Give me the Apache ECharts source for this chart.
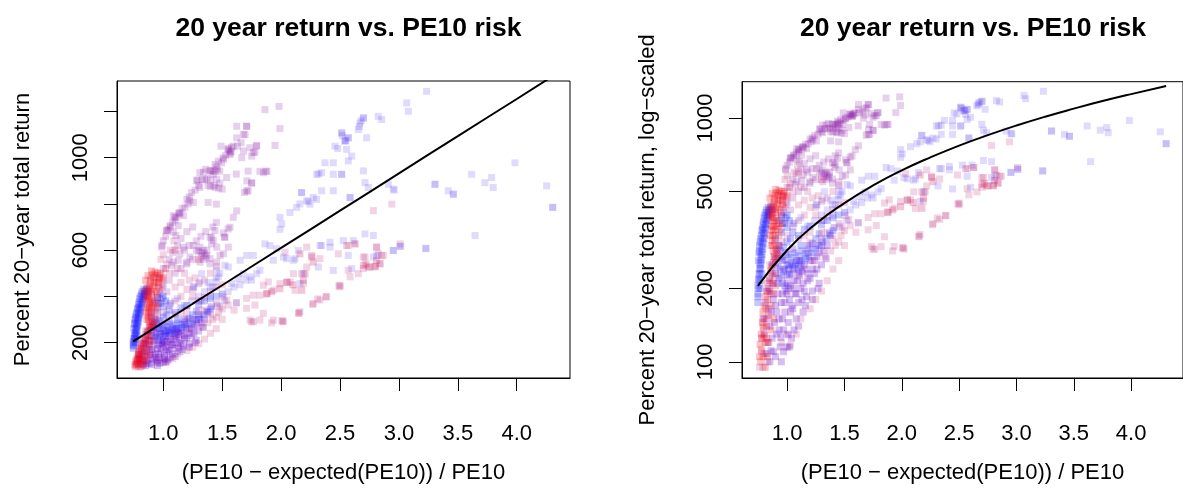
<!DOCTYPE html>
<html><head><meta charset="utf-8">
<script src="https://cdn.jsdelivr.net/npm/echarts@6/dist/echarts.min.js"></script>
<style>html,body{margin:0;padding:0;background:#fff}#c{width:1183px;height:489px}</style>
</head><body><div id="c"></div>
<script>
// ---- tick labels ----
const xTicks = [1.0, 1.5, 2.0, 2.5, 3.0, 3.5, 4.0];
const yTicksLin = [200, 400, 600, 800, 1000, 1200];
const yLabelsLin = [200, 600, 1000];
const yTicksLog = [100, 200, 500, 1000];

// ---- data: [PE10 risk, 20-year total return %] grouped by colour ----
const pinkPts = [[2.783,771],[2.94,799],[3.009,627],[2.811,613],[2.853,577],[2.712,570],[2.754,527],[2.839,541],[2.698,520],[2.655,498],[2.585,484],[2.5,448],[2.57,513],[2.556,620],[2.627,627],[2.486,584],[2.33,563],[2.217,527],[2.174,498],[2.188,455],[2.104,498],[2.047,462],[1.99,455],[1.934,427],[1.877,412],[1.82,405],[1.764,405],[1.707,391],[1.622,372],[1.538,384],[1.509,398],[1.453,369],[1.48,355],[2.16,333],[2.33,384],[2.386,398],[2.273,369],[2.019,290],[1.934,297],[1.82,297],[1.736,297],[1.764,290],[1.707,348],[1.778,362],[1.849,326],[1.891,462],[1.849,448],[2.217,613],[2.26,577],[2.57,620],[2.627,627],[2.5,441],[2.268,365],[2.152,326],[2.013,293],[2.118,426],[2.698,570],[2.797,527],[2.825,584],[2.868,577],[2.84,541],[2.81,613],[2.033,591],[2.076,462],[2.49,445],[2.31,389],[2.38,398],[2.147,328],[1.75,290],[2.006,294],[1.92,285],
[1.03,540],[1.06,600],[1.09,640],[1.12,520],[1.18,500],[1.22,470],[1.27,480],[1.3,455],[1.15,460],[1.05,500],[0.98,560],[1.0,580],[1.1,440],[1.25,430],[1.35,470],[1.4,500],[1.45,530],
[1.03,117],[1.08,130],[0.79,95],[0.8,108],[1.12,150],[1.2,165],[1.25,180],[1.3,195],[1.35,215],[1.4,240],[1.45,260],[1.38,285],[1.33,270],[1.42,300],[1.47,330],[1.5,345],[1.55,362],[1.6,340],[1.15,330],[1.2,310],[1.25,300],[1.3,320],[1.35,340],[1.18,280],[1.22,260],[0.78,125],[0.83,100],[0.95,120],[1.0,130],
[0.78,110],[0.79,140],[0.76,95],[0.85,250],[0.95,310],[1.0,330],[1.05,360],[1.1,380],[1.15,400],[1.2,430],[1.25,400],[1.3,380],[1.35,395],[1.4,420],[1.45,440],[1.5,450],[1.1,320],[1.2,340],[1.3,340],[1.4,320],[1.5,300],[1.45,310]];

const lavPts = [[1.99,742],[2.005,713],[2.075,763],[2.132,785],[2.174,849],[2.217,814],[2.245,799],[2.273,828],[2.302,928],[2.344,935],[2.344,857],[2.443,857],[2.443,928],[2.372,978],[2.443,978],[2.514,928],[2.457,1050],[2.514,1107],[2.542,1072],[2.57,1086],[2.556,1036],[2.599,1007],[2.57,986],[2.655,1122],[2.67,1151],[2.698,1172],[2.726,1086],[2.698,943],[2.712,892],[2.74,871],[2.825,1179],[2.853,1165],[2.91,885],[2.952,864],[2.585,828],[3.066,1237],[3.08,1201],[3.235,1287],[3.306,885],[3.419,857],[3.462,842],[3.617,928],[3.73,892],[3.787,914],[3.8,871],[3.985,978],[4.254,878],[4.305,785],[3.646,663],[3.23,606],[2.952,599],[3.009,616],[3.015,617],[2.952,598],[3.227,608],[2.613,641],[2.443,512],[2.599,520],[2.783,570],[2.57,577],[1.99,690],[2.16,800],[2.3,820],[2.48,1040],[2.52,1095],[2.55,1075],[2.665,1135],[2.68,1160],
[2.542,1072],[2.57,1086],[2.514,1107],[2.32,930],[2.514,928],[2.585,828],[2.174,849],[2.23,810],[4.305,785],[3.306,885],[3.462,842],[2.96,860],[2.7,1172],
[1.863,627],[1.905,620],[1.934,556],[1.962,606],[2.019,570],[2.047,563],[2.104,556],[2.344,620],[2.415,613],[2.712,670],[2.783,663],[2.811,577],[2.316,527],[2.188,498],[2.16,455],[1.82,513],[1.792,498],[1.736,484],[1.679,498],[1.707,577],[1.764,577],[1.651,556],[1.58,455],[1.637,477],[1.552,527],[1.523,534],[1.453,513],[1.467,484],[1.439,462],[1.396,441],[1.325,498],[1.31,462],[1.255,441],[2.528,641],[2.33,620],[2.415,634],[2.118,563],[2.146,598],[1.62,372],
[1.12,390],[1.18,360],[1.24,380],[1.3,400],[1.35,420],[1.38,460],[1.42,440],[1.45,480],[1.48,500],[1.32,380],[1.4,400],[1.26,440],[1.55,420],[1.6,440],[1.65,450],[1.7,470],[1.75,470],[1.52,380],[1.46,360]];

const purplePts = [[1.863,1208],[1.982,1222],[1.99,1126],[1.623,1136],[1.708,1136],[1.694,1100],[1.623,1086],[1.948,1053],[1.793,1053],[1.736,1043],[1.49,1050],[1.55,1035],[1.575,1027],[1.566,1014],[1.509,993],[1.467,985],[1.666,1000],[1.75,1007],[1.778,1024],[1.439,971],[1.4,942],[1.48,942],[1.424,928],[1.34,938],[1.538,914],[1.72,942],[1.82,941],[1.88,941],[1.75,889],[1.708,856],[1.29,904],[1.33,904],[1.4,904],[1.44,872],[1.47,868],[1.5,864],[1.4,875],[1.31,871],[1.24,849],[1.255,806],[1.2,820],[1.38,806],[1.45,799],[1.184,785],[1.623,770],[1.14,763],[1.17,749],[1.085,749],[1.11,743],[1.057,706],[1.127,706],[1.03,684],[1.085,678],[1.566,699],[1.51,674],[1.41,656],[1.52,656],[1.107,663],[1.85,935],[1.87,942],[1.71,900],[1.75,892],[1.69,850],[1.72,857],[1.62,929],[1.594,742],[1.55,692],
[1.56,1030],[1.57,1020],[1.55,1040],[1.42,945],[1.44,940],[1.46,950],[1.35,905],[1.37,910],[1.3,880],[1.27,860],[1.22,830],[1.21,800],[1.16,780],[1.13,760],[1.1,730],[1.08,720],[1.06,700],[1.04,690],[1.02,660],[1.0,640],[0.99,620],[1.38,880],[1.43,880],[1.48,890],[1.51,1000],[1.53,1010],[1.58,1045],[1.63,1050],[1.66,1065],[1.45,960],[1.36,950],[0.986,613],[1.028,685],[1.099,742],[1.14,756],[1.226,814],[1.283,900],[1.31,935],[1.396,943],[1.453,907],[1.495,978],[1.594,1050],[1.68,1100],[1.707,1136],[1.79,1050],[1.68,1029],[1.764,1022],
[1.311,613],[1.34,599],[1.368,577],[1.396,563],[1.424,642],[1.41,627],[1.453,613],[1.283,599],[1.255,620],[1.226,570],[1.17,613],[1.141,584],[1.127,556],[1.085,548],[1.071,534],[1.198,548],[1.311,548],[1.396,541],[1.453,548],[1.481,577],[1.51,584],[1.552,613],[1.523,656],[1.439,685],[1.396,656],[1.33,590],[1.35,585],[1.36,570],[1.32,575],[1.34,560],[1.3,595],[1.37,600],
[1.0,450],[1.05,470],[1.1,500],[1.15,520],[1.2,540],[1.25,560],[1.18,600],[1.22,620],[1.28,640],[1.32,660],[1.36,680],[1.42,700],[1.45,720],[1.05,560],[1.08,590],[1.12,620],[1.15,650],[1.2,680],[1.25,700],[1.0,520],[0.97,480],[0.99,440],[1.03,420]];

const massPts = [[0.8,130],[0.82,150],[0.83,120],[0.85,140],[0.86,160],[0.87,125],[0.88,110],[0.89,145],[0.9,170],[0.91,130],[0.92,190],[0.93,150],[0.94,115],[0.95,175],[0.96,210],[0.97,135],[0.98,160],[0.99,195],[1.0,225],[1.01,145],[1.02,180],[1.03,205],[1.04,125],[1.05,165],[1.06,240],[1.07,190],[1.08,150],[1.09,215],[1.1,175],[1.12,200],[1.13,235],[1.14,160],[1.15,250],[1.17,185],[1.18,215],[1.2,260],[1.22,195],[1.24,230],[1.26,270],[1.28,210],[1.3,250],[1.32,285],[0.84,200],[0.87,230],[0.9,255],[0.97,110],[1.02,115],[1.06,135],[0.88,180],[0.93,220],[0.99,280],[1.05,290],[1.11,260],[1.18,300],[1.35,300],[1.38,330],[1.41,355],[1.34,265],[0.86,111],[0.945,126],[1.01,129],[0.91,160],[0.96,150],[1.0,190],[1.04,170],
[0.79,150],[0.81,175],[0.83,195],[0.85,215],[0.87,250],[0.89,270],[0.91,290],[0.84,165],[0.86,190],[0.88,210],[0.9,230],[0.92,265],[0.94,240],[0.96,260],[0.98,240],[1.0,210],[1.02,250],[1.04,230],[1.06,200],[1.08,260],[1.1,230],[1.12,245],[1.14,210],[1.16,240],[1.18,230],[1.2,220],[1.22,240],[1.24,260],[1.26,240],[1.28,280],[1.3,300],[1.15,195],[1.1,140],[1.16,170],[1.22,180],[1.27,200],[0.95,100],[0.9,105],[0.85,100],[0.82,108],[1.0,115],[0.93,135],[0.98,175],[1.03,160],[1.08,190],[1.13,180],[0.96,190],[1.01,200],[1.06,215],[1.11,225]];

const bluePts = [[0.745,175],[0.745,190],[0.745,205],[0.75,218],[0.755,230],[0.76,242],[0.765,255],[0.77,268],[0.775,282],[0.78,296],[0.785,310],[0.79,325],[0.795,340],[0.8,355],[0.81,370],[0.82,385],[0.83,400],[0.84,412],[0.85,425],[0.86,432],[0.87,420],[0.76,300],[0.77,320],[0.78,345],[0.79,365],[0.8,390],[0.815,410],[0.75,260],[0.755,280],[0.765,200],[0.77,215],[0.78,230],[0.93,380],[0.95,395],[0.97,410],[0.99,390],[0.96,370],[1.0,400],
[0.95,270],[0.98,262],[1.01,275],[1.04,268],[1.07,280],[1.1,272],[1.13,285],[1.16,278],[1.19,290],[1.0,250],[1.05,245],[1.1,255],[0.92,245],[0.97,235],[1.02,228],[0.93,300],[1.12,300],[1.22,305],[1.25,320],[1.28,335],
[0.748,185],[0.752,200],[0.757,215],[0.762,228],[0.768,240],[0.772,250],[0.778,262],[0.783,275],[0.788,290],[0.793,305],[0.8,320],[0.806,335],[0.812,350],[0.818,365],[0.825,380],[0.835,395],[0.845,405],[0.76,285],[0.765,310],[0.775,330],[0.785,350],[0.795,375],[0.805,400],[0.82,420],[0.835,430],
[0.92,210],[0.95,225],[0.98,205],[1.01,240],[1.04,255],[1.07,250],[1.1,240],[1.13,260],[1.16,265],[1.19,270],[1.22,280],[1.25,290],[1.28,300],[1.31,310],[1.34,320],[1.37,335],[1.4,345],[0.94,285],[0.97,295],[1.0,310],[1.03,320],[0.9,320],[0.95,340],[1.0,355],[1.05,340],[1.1,330],[0.98,370],[1.02,380],[1.06,370],[1.15,350],[1.2,360],[1.3,365],[1.35,380],[1.4,390],[1.45,400],[1.5,410]];

const redPts = [[0.88,255],[0.885,270],[0.88,285],[0.875,300],[0.87,315],[0.875,330],[0.88,345],[0.885,360],[0.88,375],[0.875,390],[0.87,405],[0.875,420],[0.88,435],[0.885,450],[0.89,465],[0.895,480],[0.91,495],[0.93,505],[0.95,500],[0.97,490],[0.96,475],[0.94,460],[0.92,445],[0.91,430],[0.9,410],[0.905,390],[0.91,370],[0.9,350],[0.895,330],[0.89,310],[0.9,290],[0.91,275],[0.93,300],[0.94,350],[0.95,400],[0.96,440],[0.99,470],[0.86,440],[0.85,470],[0.87,490],[0.9,510],[0.92,480],
[0.86,300],[0.87,350],[0.89,380],[0.9,420],[0.92,460],[0.93,490],[0.94,420],[0.96,460],[0.97,430],[0.98,500],[1.0,480],[0.92,360],[0.93,330],[0.95,370],[0.85,330],[0.86,360],[0.865,400],[0.85,390],[0.84,420],[0.9,265],[0.92,280],
[0.77,100],[0.775,112],[0.78,125],[0.79,105],[0.795,138],[0.8,150],[0.81,120],[0.815,165],[0.82,140],[0.83,180],[0.84,155],[0.85,195],[0.86,170],[0.87,210],[0.88,190],[0.89,225],[0.9,205],[0.84,120],[0.86,135],[0.81,95],[0.83,105],[0.88,150],
[0.775,130],[0.785,145],[0.79,160],[0.8,170],[0.81,185],[0.82,195],[0.83,210],[0.845,220],[0.855,235],[0.865,245],[0.76,105],[0.765,118],[0.8,128],[0.82,125]];

const magentaPts = [[2.273,548],[2.7,534],[2.74,527],[2.81,555],[2.175,426],[2.189,469],[1.99,433],[2.203,498],[2.16,584],[2.26,570],[2.72,540],[2.8,530],[1.88,410],[1.92,420],[2.05,460],[2.1,450],[1.3,560],[1.1,600],[1.02,520]];

// ---- fitted line ----
const fitX = [0.745, 1.0, 1.25, 1.5, 1.75, 2.0, 2.25, 2.5, 2.75, 3.0, 3.25, 3.5, 3.75, 4.0, 4.305];
const fitY = [205, 287, 368, 448, 529, 610, 690, 771, 851, 932, 1013, 1093, 1174, 1254, 1353];

const FONT = 'Liberation Sans, Arial, Helvetica, sans-serif';
const groups = [
  {data: pinkPts, color: 'rgba(190,40,120,0.25)'},
  {data: lavPts, color: 'rgba(80,50,240,0.22)'},
  {data: purplePts, color: 'rgba(140,30,170,0.26)'},
  {data: magentaPts, color: 'rgba(200,20,90,0.3)'},
  {data: massPts, color: 'rgba(100,0,200,0.32)'},
  {data: bluePts, color: 'rgba(20,20,255,0.3)'},
  {data: redPts, color: 'rgba(240,0,20,0.3)'}
];
const fitData = fitX.map((x, i) => [x, fitY[i]]);

function xAxis(gi) {
  return {
    type: 'value', gridIndex: gi, min: 0.607, max: 4.452,
    axisLine: {show: true, onZero: false, lineStyle: {color: '#000', width: 1}},
    axisTick: {show: true, inside: false, length: 13, customValues: xTicks, lineStyle: {color: '#000'}},
    axisLabel: {customValues: xTicks, formatter: v => v.toFixed(1), margin: 45, fontSize: 22, color: '#000', fontFamily: FONT},
    splitLine: {show: false},
    name: '(PE10 \u2212 expected(PE10)) / PE10', nameLocation: 'middle', nameGap: 84,
    nameTextStyle: {fontSize: 22, color: '#000', fontFamily: FONT}
  };
}
const series = [];
[0, 1].forEach(gi => {
  groups.forEach(g => series.push({
    type: 'scatter', xAxisIndex: gi, yAxisIndex: gi, data: g.data,
    symbol: 'rect', symbolSize: 7, itemStyle: {color: g.color}, silent: true
  }));
  series.push({type: 'line', xAxisIndex: gi, yAxisIndex: gi, data: fitData, symbol: 'none',
    smooth: gi === 1, clip: true, lineStyle: {color: '#000', width: 2}, silent: true});
});

const option = {
  backgroundColor: '#fff', animation: false,
  title: [
    {text: '20 year return vs. PE10 risk', left: 343.5, top: 10, textAlign: 'center',
     textStyle: {fontSize: 26.5, fontWeight: 'bold', color: '#000', fontFamily: FONT}},
    {text: '20 year return vs. PE10 risk', left: 968, top: 10, textAlign: 'center',
     textStyle: {fontSize: 26.5, fontWeight: 'bold', color: '#000', fontFamily: FONT}}
  ],
  grid: [
    {left: 117, top: 81, width: 453, height: 299, show: true, borderColor: '#000', borderWidth: 1, backgroundColor: 'transparent'},
    {left: 742, top: 81.7, width: 453, height: 298.3, show: true, borderColor: '#000', borderWidth: 1, backgroundColor: 'transparent'}
  ],
  xAxis: [xAxis(0), xAxis(1)],
  yAxis: [
    {type: 'value', gridIndex: 0, min: 46.5, max: 1332,
     axisLine: {show: true, onZero: false, lineStyle: {color: '#000'}},
     axisTick: {show: true, inside: false, length: 13, customValues: yTicksLin, lineStyle: {color: '#000'}},
     axisLabel: {customValues: yLabelsLin, formatter: v => String(v), rotate: 90, margin: 25, fontSize: 22, color: '#000', fontFamily: FONT},
     splitLine: {show: false},
     name: 'Percent 20\u2212year total return', nameLocation: 'middle', nameGap: 83, nameRotate: 90,
     nameTextStyle: {fontSize: 22, color: '#000', fontFamily: FONT}},
    {type: 'log', logBase: 10, gridIndex: 1, min: 85.8, max: 1410,
     axisLine: {show: true, onZero: false, lineStyle: {color: '#000'}},
     axisTick: {show: true, inside: false, length: 13, customValues: yTicksLog, lineStyle: {color: '#000'}},
     axisLabel: {customValues: yTicksLog, formatter: v => String(Math.round(v)), rotate: 90, margin: 25, fontSize: 22, color: '#000', fontFamily: FONT},
     splitLine: {show: false}, minorTick: {show: false},
     name: 'Percent 20\u2212year total return, log\u2212scaled', nameLocation: 'middle', nameGap: 83, nameRotate: 90,
     nameTextStyle: {fontSize: 22, color: '#000', fontFamily: FONT}}
  ],
  series: series
};
const chart = echarts.init(document.getElementById('c'), null, {renderer: 'canvas'});
chart.setOption(option);
</script></body></html>
